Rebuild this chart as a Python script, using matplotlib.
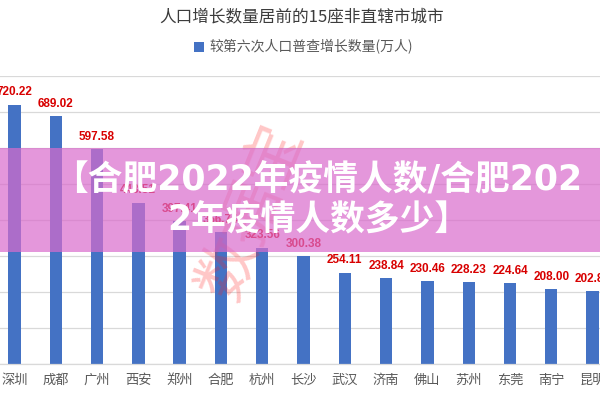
import matplotlib
matplotlib.use('Agg')
import matplotlib.pyplot as plt
from matplotlib.patches import Rectangle

plt.rcParams['font.family'] = ['Noto Sans CJK SC', 'DejaVu Sans']

# data
cities = ['深圳', '成都', '广州', '西安', '郑州', '合肥', '杭州', '长沙',
          '武汉', '济南', '佛山', '苏州', '东莞', '南宁', '昆明']
growth = [720.22, 689.02, 597.58, 448.51, 397.41, 366.74, 323.56, 300.38,
          254.11, 238.84, 230.46, 228.23, 224.64, 208.00, 202.81]

title = '人口增长数量居前的15座非直辖市城市'
series_name = '较第六次人口普查增长数量(万人)'
banner = '【合肥2022年疫情人数/合肥202\n2年疫情人数多少】'

BLUE = '#4472c4'
RED = '#d80000'
GRID = '#d9d9d9'

fig = plt.figure(figsize=(6, 4), dpi=100)
fig.patch.set_facecolor('white')

# chart area is cropped: first and last bar touch the edges
ax = fig.add_axes([0, 0.09, 1, 0.72])
x = range(len(cities))
bars = ax.bar(x, growth, width=0.3, color=BLUE, zorder=2, label=series_name)
ax.set_xlim(-0.351, 14.18)
ax.set_ylim(0, 800)
ax.set_yticks(range(0, 801, 100))
ax.set_yticklabels([])
ax.tick_params(axis='y', length=0)
ax.grid(axis='y', color=GRID, linewidth=0.9, zorder=0)
for s in ['top', 'left', 'right']:
    ax.spines[s].set_visible(False)
ax.spines['bottom'].set_color(GRID)
ax.spines['bottom'].set_linewidth(0.9)

ax.set_xticks(list(x))
ax.set_xticklabels(cities, fontsize=9.5, color='#595959')
ax.tick_params(axis='x', length=0, pad=7)

# value labels
for xi, v in zip(x, growth):
    ax.annotate(f'{v:.2f}', (xi, v), xytext=(0, 4.5), textcoords='offset points',
                ha='center', va='bottom', fontsize=8.5, fontweight='bold',
                color=RED, family='Liberation Sans', zorder=3)

# title and legend
fig.text(0.503, 0.9575, title, ha='center', va='center', fontsize=12, color='#3c3c3c')
fig.legend(handles=[bars], labels=[series_name], loc='center',
           bbox_to_anchor=(0.506, 0.8825), frameon=False, fontsize=10,
           labelcolor='#595959', handlelength=0.7, handleheight=0.7,
           handletextpad=0.4)

# watermark
fig.text(0.42, 0.47, '数据宝', rotation=68, ha='center', va='center',
         fontsize=44, color='#ff2020', alpha=0.25, zorder=4)

# pink banner over the chart
fig.patches.append(Rectangle((0, 0.37), 1, 0.26, transform=fig.transFigure,
                             facecolor=(0.85, 0.42, 0.80), alpha=0.7,
                             edgecolor='none', zorder=5))
fig.text(0.53, 0.498, banner, ha='center', va='center', multialignment='center',
         fontsize=25, fontweight='bold', color='white', linespacing=1.22,
         family=['DejaVu Sans', 'Noto Sans CJK SC'], zorder=6)

fig.savefig('out.png', dpi=100)
